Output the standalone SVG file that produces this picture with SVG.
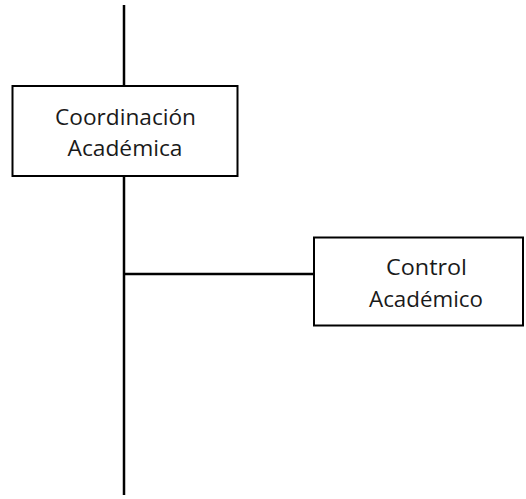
<svg xmlns="http://www.w3.org/2000/svg" width="526" height="499" viewBox="0 0 526 499">
<style>
.box{fill:#fff;stroke:#000;stroke-width:2}
.ln{stroke:#000;stroke-width:2.5;fill:none}
text{font-family:"Open Sans","Liberation Sans",Arial,sans-serif;font-size:21px;fill:#1a1a1a;text-anchor:middle}
</style>
<rect width="526" height="499" fill="#fff"/>
<g id="connectors">
<line class="ln" x1="124" y1="5" x2="124" y2="495"/>
<line class="ln" x1="124" y1="274" x2="314" y2="274"/>
</g>
<g id="coordinacion">
<rect class="box" x="12.5" y="86" width="225" height="90"/>
<text x="125.5" y="125" textLength="141" lengthAdjust="spacingAndGlyphs">Coordinación</text>
<text x="125" y="156" textLength="115" lengthAdjust="spacingAndGlyphs">Académica</text>
</g>
<g id="control">
<rect class="box" x="314" y="237.5" width="209" height="88"/>
<text x="426.5" y="274.5" textLength="81" lengthAdjust="spacingAndGlyphs">Control</text>
<text x="426" y="306.5" textLength="114" lengthAdjust="spacingAndGlyphs">Académico</text>
</g>
</svg>
